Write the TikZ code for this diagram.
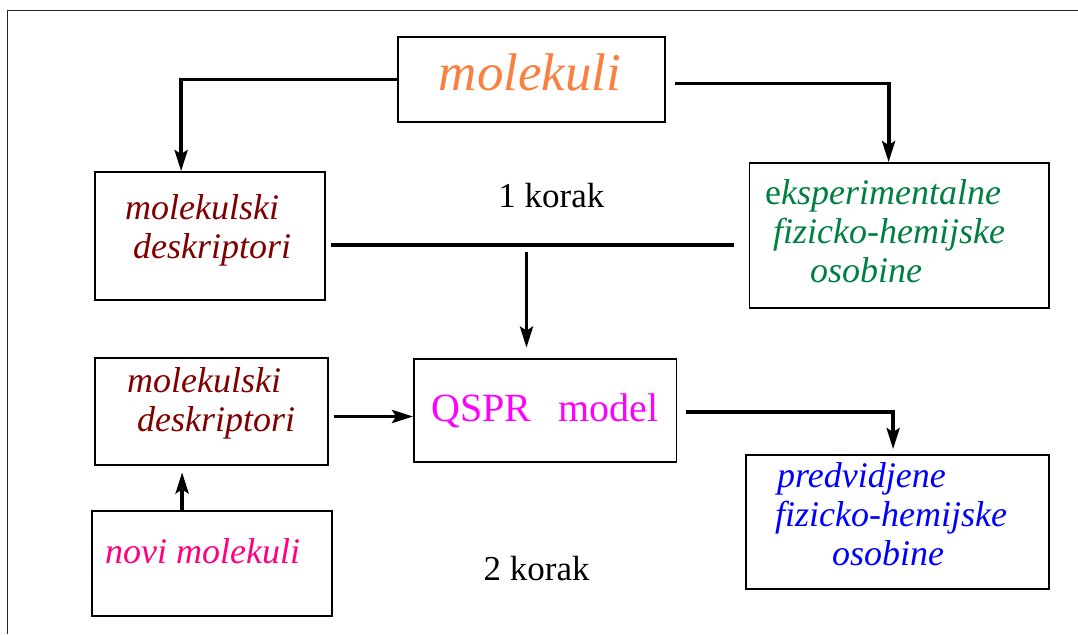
\documentclass[tikz,border=0pt]{standalone}
\usepackage{fontspec}
\setmainfont{Liberation Serif}
\usetikzlibrary{arrows.meta}
\definecolor{narandz}{RGB}{249,128,64}
\definecolor{tamnocrv}{RGB}{128,0,0}
\definecolor{zelena}{RGB}{0,128,64}
\definecolor{roze}{RGB}{255,0,128}
\definecolor{ljubic}{RGB}{255,0,255}
\tikzset{
  okvir/.style={draw,line width=1.8pt,inner sep=0pt},
  tekst/.style={inner sep=0pt,anchor=base west,align=left,font=\fontsize{36}{39}\selectfont\itshape},
  veza/.style={line width=3.8pt},
  strelica/.style={veza,-{Stealth[length=21pt,width=13pt,inset=4pt]}}
}

\begin{document}
\begin{tikzpicture}[x=1pt,y=-1pt]
\useasboundingbox (0,0) rectangle (1078,634);
\draw[line width=1.5pt,black!85] (7.5,634) |- (1078,10.5);
% boxes
\node[okvir,minimum width=267pt,minimum height=85pt] (mol) at (531.5,79.5) {};
\node[okvir,minimum width=230pt,minimum height=128pt] (d1) at (210,236) {};
\node[okvir,minimum width=299.5pt,minimum height=145pt] (eks) at (899.25,235.5) {};
\node[okvir,minimum width=233pt,minimum height=107pt] (d2) at (211.5,411.5) {};
\node[okvir,minimum width=262.5pt,minimum height=103pt] (qspr) at (545.25,410.5) {};
\node[okvir,minimum width=240pt,minimum height=105pt] (novi) at (212,563.5) {};
\node[okvir,minimum width=303pt,minimum height=134pt] (pred) at (897.5,522) {};
% texts (anchor = baseline of the last line)
\node[inner sep=0pt,anchor=base,text=narandz,font=\fontsize{53}{60}\selectfont\itshape] (tmol) at (530,90) {molekuli};
\node[tekst,text=tamnocrv] (td1) at (125,258) {molekulski\\\hspace*{8pt}deskriptori};
\node[tekst,text=zelena] (teks) at (765,282) {{\upshape e}ksperimentalne\\\hspace*{8pt}fizicko-hemijske\\\hspace*{45pt}osobine};
\node[tekst,text=tamnocrv] (td2) at (127,431.7) {molekulski\\\hspace*{10pt}deskriptori};
\node[inner sep=0pt,anchor=base west,text=ljubic,font=\fontsize{40}{44}\selectfont] (tqspr) at (431,421.7) {QSPR\hspace{27pt}model};
\node[tekst,text=roze] (tnovi) at (105,563) {novi molekuli};
\node[tekst,text=blue] (tpred) at (777,565) {predvidjene\\\hspace*{-2pt}fizicko-hemijske\\\hspace*{55pt}osobine};
\node[inner sep=0pt,anchor=base,font=\fontsize{35}{39}\selectfont] (k1) at (551.4,207) {1 korak};
\node[inner sep=0pt,anchor=base,font=\fontsize{35}{39}\selectfont] (k2) at (536.7,580) {2 korak};
% connectors
\coordinate (spoj) at (526.5,252);
\draw[strelica] (mol.west) -| ([xshift=87pt]d1.north west);
\draw[strelica] ([xshift=9pt,yshift=-4pt]mol.east) -| ([xshift=140pt]eks.north west);
\draw[veza] ([xshift=5pt,yshift=-9pt]d1.east) -- ([xshift=-15pt,yshift=-9.5pt]eks.west);
\draw[strelica] (spoj) -- ([xshift=-18.75pt,yshift=10.5pt]qspr.north);
\draw[strelica] ([xshift=5pt,yshift=-5pt]d2.east) -- ([yshift=-6pt]qspr.west);
\draw[strelica] ([xshift=91pt]novi.north west) -- ([xshift=88pt,yshift=-6.5pt]d2.south west);
\draw[strelica] ([xshift=9pt,yshift=-1.8pt]qspr.east) -| ([xshift=148pt,yshift=5pt]pred.north west);
\end{tikzpicture}
\end{document}
